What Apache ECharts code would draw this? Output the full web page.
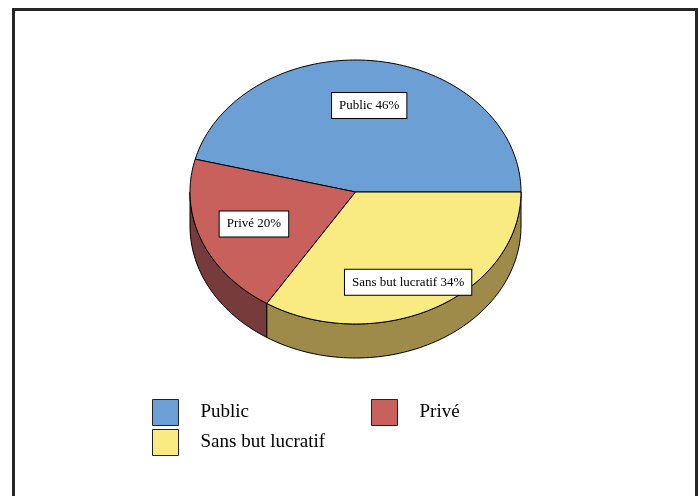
<!DOCTYPE html>
<html>
<head>
<meta charset="utf-8">
<script src="https://cdn.jsdelivr.net/npm/echarts@6/dist/echarts.min.js"></script>
<style>
  html, body { margin: 0; padding: 0; background: #fff; }
  #chart { width: 700px; height: 496px; }
</style>
</head>
<body>
<div id="chart"></div>
<script>
// Répartition par statut (parts en %)
var categories = ['Public', 'Privé', 'Sans but lucratif'];
var values = [46, 20, 34];

// Couleurs des faces supérieures et des flancs
var topColors = ['#6CA0D5', '#C8605C', '#F9EB82'];
var sideColors = ['#4A6F95', '#763B3A', '#9E8B4A'];

// Géométrie du camembert en perspective
var PIE = { cx: 355.5, cy: 192, rx: 165.5, ry: 132, depth: 34 };
var LABEL_R = 0.66;
var labelNudge = [[0, 0], [0, 0], [0, 14]];

// Emplacements des entrées de légende (deux colonnes)
var legendSlots = [[152, 399], [371, 399], [152, 429]];

var total = values.reduce(function (a, b) { return a + b; }, 0);

function pt(angDeg, dy) {
  var a = angDeg * Math.PI / 180;
  return [PIE.cx + PIE.rx * Math.cos(a), PIE.cy - PIE.ry * Math.sin(a) + (dy || 0)];
}

function arcPoints(a0, a1, dy) {
  var pts = [];
  var n = Math.max(2, Math.ceil(Math.abs(a1 - a0) / 1.5));
  for (var i = 0; i <= n; i++) {
    pts.push(pt(a0 + (a1 - a0) * i / n, dy));
  }
  return pts;
}

function renderSlice(params, api) {
  var idx = params.dataIndex;
  var before = 0;
  for (var i = 0; i < idx; i++) before += values[i];
  var v = api.value(0);
  var a0 = before / total * 360;
  var a1 = (before + v) / total * 360;
  var children = [];

  // flanc visible (moitié avant, angles 180°–360°)
  var s = Math.max(a0, 180), e = Math.min(a1, 360);
  if (e > s) {
    var upper = arcPoints(s, e, 0);
    var lower = arcPoints(e, s, PIE.depth);
    children.push({
      type: 'polygon',
      shape: { points: upper.concat(lower) },
      style: { fill: sideColors[idx], stroke: '#000', lineWidth: 1 }
    });
  }

  // face supérieure
  var topPts = [[PIE.cx, PIE.cy]].concat(arcPoints(a0, a1, 0));
  children.push({
    type: 'polygon',
    shape: { points: topPts },
    style: { fill: topColors[idx], stroke: '#000', lineWidth: 1 }
  });

  // étiquette
  var mid = (a0 + a1) / 2 * Math.PI / 180;
  var lx = PIE.cx + PIE.rx * LABEL_R * Math.cos(mid) + labelNudge[idx][0];
  var ly = PIE.cy - PIE.ry * LABEL_R * Math.sin(mid) + labelNudge[idx][1];
  children.push({
    type: 'text',
    z2: 10,
    style: {
      text: categories[idx] + ' ' + v + '%',
      x: lx, y: ly,
      align: 'center', verticalAlign: 'middle',
      fontFamily: 'Liberation Serif', fontSize: 13, fill: '#000',
      backgroundColor: '#fff', borderColor: '#000', borderWidth: 1,
      padding: [6, 7, 6, 7]
    }
  });

  return { type: 'group', children: children };
}

var chart = echarts.init(document.getElementById('chart'), null, { renderer: 'canvas' });

var legends = categories.map(function (name, i) {
  return {
    data: [name],
    left: legendSlots[i][0],
    top: legendSlots[i][1],
    padding: 0,
    orient: 'horizontal',
    itemWidth: 26,
    itemHeight: 26,
    icon: 'rect',
    selectedMode: false,
    itemStyle: { borderColor: '#222', borderWidth: 1 },
    textStyle: {
      fontFamily: 'Liberation Serif',
      fontSize: 19,
      color: '#000',
      padding: [0, 0, 0, 17]
    }
  };
});

chart.setOption({
  backgroundColor: '#fff',
  animation: false,
  graphic: [{
    type: 'rect',
    shape: { x: 13.5, y: 9.5, width: 683, height: 520 },
    style: { fill: 'none', stroke: '#262626', lineWidth: 3 },
    silent: true
  }],
  legend: legends,
  series: [
    {
      type: 'custom',
      coordinateSystem: 'none',
      renderItem: renderSlice,
      data: values.map(function (v) { return [v]; }),
      silent: true
    },
    {
      // série porteuse de la légende (non dessinée)
      type: 'pie',
      radius: [0, 0],
      center: [PIE.cx, PIE.cy],
      silent: true,
      label: { show: false },
      labelLine: { show: false },
      data: categories.map(function (c, i) {
        return { name: c, value: values[i], itemStyle: { color: topColors[i] } };
      })
    }
  ]
});
</script>
</body>
</html>
